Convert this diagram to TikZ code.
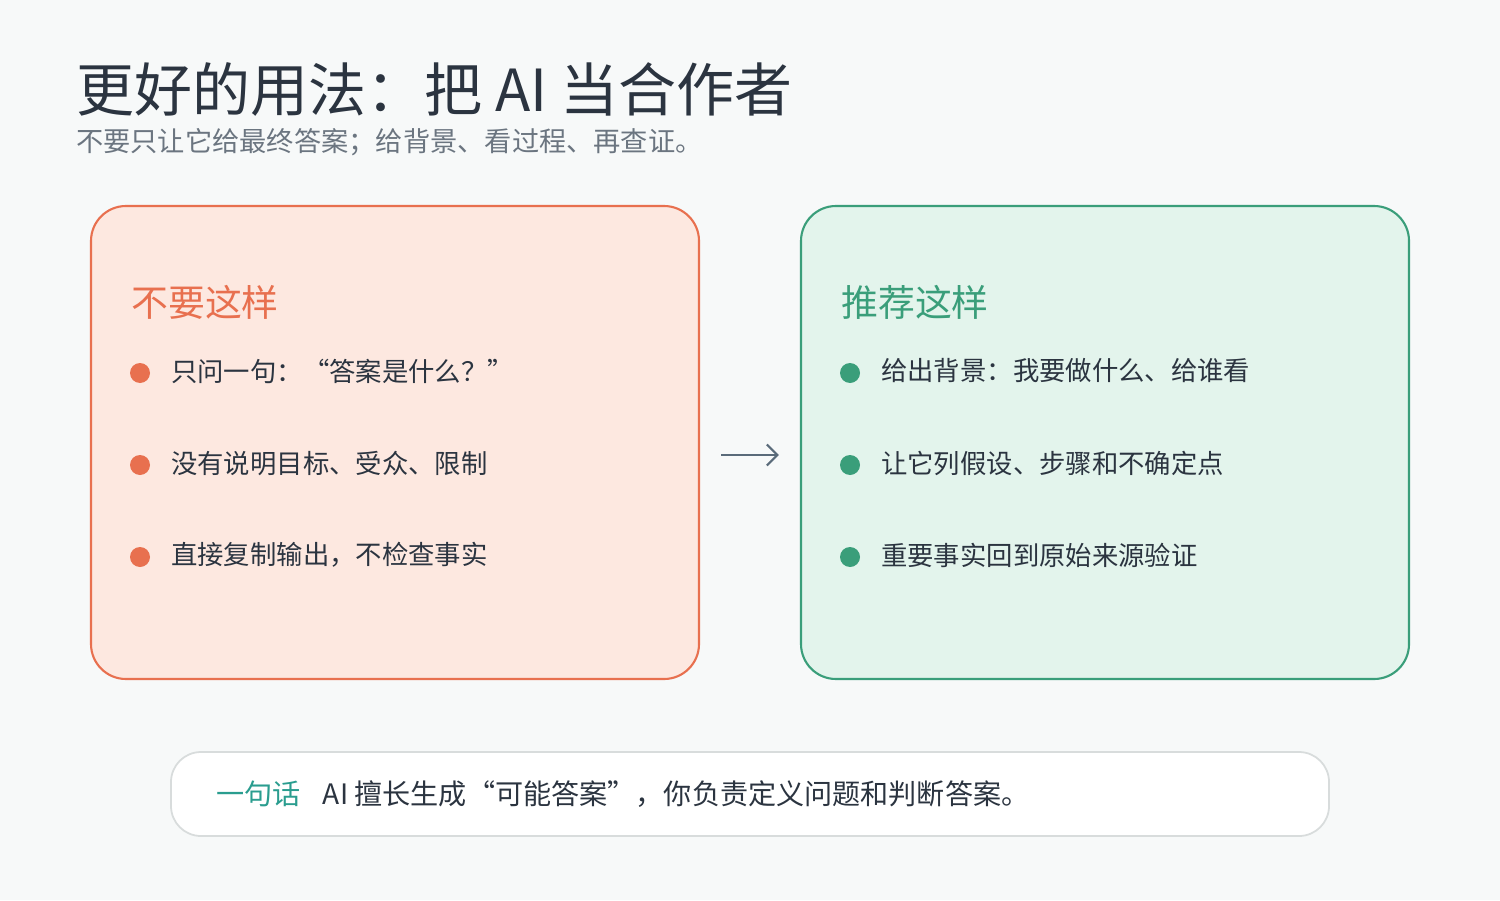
\documentclass[tikz,border=0pt]{standalone}
\usepackage{fontspec}
\setmainfont{Noto Sans CJK SC}
\usetikzlibrary{positioning,arrows.meta}
\definecolor{bgcol}{HTML}{F7F9F9}
\definecolor{inkcol}{HTML}{2B3440}
\definecolor{subcol}{HTML}{6B7580}
\definecolor{badline}{HTML}{E8704F}
\definecolor{badfill}{HTML}{FDE8E0}
\definecolor{goodline}{HTML}{3A9E7A}
\definecolor{goodfill}{HTML}{E3F4EC}
\definecolor{tealcol}{HTML}{2A9D8F}
\definecolor{arrowcol}{HTML}{5A6B7A}
\definecolor{notecol}{HTML}{D8DCDC}
\tikzset{
  panel/.style={rounded corners=0.7cm, line width=1.2pt, minimum width=12.16cm, minimum height=9.46cm},
  heading/.style={anchor=west, font=\fontsize{21}{25}\selectfont},
  item/.style={anchor=west, text=inkcol, font=\fontsize{15}{18}\selectfont},
  dot/.style={circle, inner sep=0pt, minimum size=0.4cm},
}
\begin{document}
\begin{tikzpicture}
    \fill[bgcol] (0,0) rectangle (30,18);
    \useasboundingbox (0,0) rectangle (30,18);
    \node[anchor=west, text=inkcol, font=\fontsize{33}{38}\selectfont] (title) at (1.4,16.22) {更好的用法：把 AI 当合作者};
    \node[anchor=west, text=subcol, font=\fontsize{15.5}{18}\selectfont] (sub) at (1.4,15.16) {不要只让它给最终答案；给背景、看过程、再查证。};
    % two panels
    \node[panel, draw=badline, fill=badfill] (bad) at (7.9,9.15) {};
    \node[panel, draw=goodline, fill=goodfill] (good) at (22.1,9.15) {};
    \node[heading, text=badline] (badhead) at (2.5,11.96) {不要这样};
    \node[heading, text=goodline] (goodhead) at (16.7,11.96) {推荐这样};
    \foreach \y/\t [count=\i] in {10.54/只问一句：“答案是什么？”, 8.7/没有说明目标、受众、限制, 6.86/直接复制输出，不检查事实} {
      \node[dot, fill=badline] (bd\i) at (2.8,\y) {};
      \node[item] (bt\i) at (3.3,\y+0.04) {\t};
    }
    \foreach \y/\t [count=\i] in {10.54/给出背景：我要做什么、给谁看, 8.7/让它列假设、步骤和不确定点, 6.86/重要事实回到原始来源验证} {
      \node[dot, fill=goodline] (gd\i) at (17,\y) {};
      \node[item] (gt\i) at (17.5,\y+0.04) {\t};
    }
    \draw[arrowcol, line width=1.2pt, -{Straight Barb[length=6pt,width=12pt]}] ([shift={(0.42,-0.25)}]bad.east) -- ([shift={(-0.42,-0.25)}]good.west);
    % bottom note
    \node[rounded corners=0.6cm, draw=notecol, fill=white, line width=1pt, minimum width=23.16cm, minimum height=1.68cm] (note) at (15,2.12) {};
    \node[anchor=west, text=tealcol, font=\fontsize{16}{19}\selectfont] (notelabel) at (4.2,2.12) {一句话};
    \node[anchor=west, text=inkcol, font=\fontsize{16}{19}\selectfont, right=0.2cm of notelabel] (notetext) {AI 擅长生成“可能答案”，你负责定义问题和判断答案。};
  \end{tikzpicture}
\end{document}
